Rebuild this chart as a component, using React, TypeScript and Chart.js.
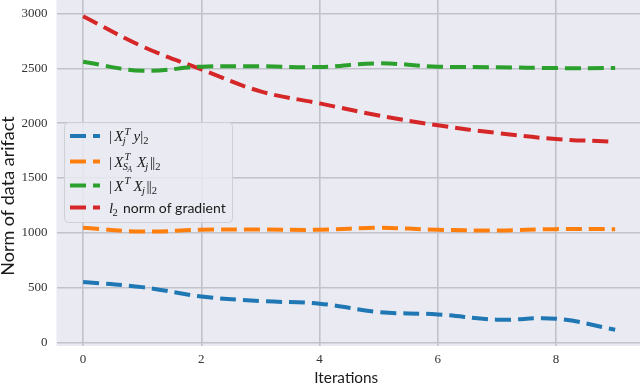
import React, { useEffect, useRef } from "react";
import { Chart, registerables } from "chart.js";

Chart.register(...registerables);

// ---------------- data ----------------
const ITERATIONS = [0, 1, 2, 3, 4, 5, 6, 7, 8, 9];
const XTY_NORM = [550, 504, 419, 377, 353, 277, 255, 207, 216, 116];
const XSA_XJ_NORM = [1045, 1011, 1027, 1030, 1027, 1045, 1027, 1021, 1033, 1033];
const XT_XJ_NORM = [2560, 2478, 2515, 2518, 2512, 2545, 2515, 2510, 2502, 2502];
const GRAD_NORM = [2975, 2700, 2490, 2290, 2180, 2070, 1980, 1910, 1855, 1830];

const SERIES_MATH = ["|X_j^T y|_2", "|X_{S_A}^T X_j||_2", "|X^T X_j||_2", "l_2"];
const SERIES_TEXT = ["", "", "", " norm of gradient"];
const SERIES_COLORS = ["#1f77b4", "#ff7f0e", "#2ca02c", "#d62728"];

const X_TICKS = [0, 2, 4, 6, 8];
const Y_TICKS = [0, 500, 1000, 1500, 2000, 2500, 3000];
const X_TITLE = "Iterations";
const Y_TITLE = "Norm of data arifact";

// ---------------- styling ----------------
const PLOT_BG = "#eaeaf2";
const GRID_COLOR = "#c2c2ca";
const TICK_COLOR = "#333333";
const SERIF = '"Liberation Serif", "DejaVu Serif", serif';
const SANS = 'Lato, "Open Sans", "DejaVu Sans", sans-serif';

type Atom = { base: string; sup?: string; sub?: string };

function parseMath(s: string): Atom[] {
  const atoms: Atom[] = [];
  let i = 0;
  const readGroup = (): string => {
    if (s[i] === "{") {
      let depth = 1;
      let j = i + 1;
      while (j < s.length && depth > 0) {
        if (s[j] === "{") depth++;
        else if (s[j] === "}") depth--;
        j++;
      }
      const g = s.slice(i + 1, j - 1);
      i = j;
      return g;
    }
    const g = s[i];
    i++;
    return g;
  };
  while (i < s.length) {
    const c = s[i];
    if (c === "^" || c === "_") {
      i++;
      const g = readGroup();
      let last = atoms[atoms.length - 1];
      if (!last) {
        last = { base: "" };
        atoms.push(last);
      }
      if (c === "^") last.sup = g;
      else last.sub = g;
    } else {
      atoms.push({ base: c });
      i++;
    }
  }
  return atoms;
}

function drawMath(
  ctx: CanvasRenderingContext2D,
  s: string,
  x: number,
  y: number,
  size: number,
  draw: boolean
): number {
  const atoms = parseMath(s);
  let cx = x;
  atoms.forEach((a, idx) => {
    if (a.base === " ") {
      cx += size * 0.15;
      return;
    }
    const isLetter = /[A-Za-z]/.test(a.base);
    if (a.base) {
      const prev = atoms[idx - 1];
      if (a.base === "|" && idx === 0) cx += 0;
      if (a.base === "|" && prev && prev.base === "|") cx -= size * 0.05;
      ctx.font = `${isLetter ? "italic " : ""}${size}px ${SERIF}`;
      const w = ctx.measureText(a.base).width;
      if (draw) ctx.fillText(a.base, cx, y);
      cx += w;
      if (a.base === "|" && idx === 0) cx += size * 0.15;
    }
    const ss = size * 0.7;
    let sw = 0;
    if (a.sup) {
      sw = Math.max(
        sw,
        drawMath(ctx, a.sup, cx + (isLetter ? size * 0.08 : 0), y - size * 0.42, ss, draw) +
          (isLetter ? size * 0.08 : 0)
      );
    }
    if (a.sub) {
      sw = Math.max(sw, drawMath(ctx, a.sub, cx - (isLetter ? size * 0.05 : 0), y + size * 0.22, ss, draw));
    }
    if (sw) cx += sw + size * 0.06;
  });
  return cx - x;
}

const backgroundPlugin = {
  id: "plotBackground",
  beforeDraw(chart: any) {
    const { ctx, chartArea } = chart;
    ctx.save();
    ctx.fillStyle = "#ffffff";
    ctx.fillRect(0, 0, chart.width, chart.height);
    ctx.fillStyle = PLOT_BG;
    ctx.fillRect(chartArea.left, chartArea.top, chartArea.right - chartArea.left, chartArea.bottom - chartArea.top);
    ctx.restore();
  },
};

function fitFont(ctx: CanvasRenderingContext2D, text: string, target: number, base: number) {
  ctx.font = `${base}px ${SANS}`;
  const w = ctx.measureText(text).width;
  const size = Math.max(12, Math.min(18, (base * target) / w));
  return `${size.toFixed(2)}px ${SANS}`;
}

const titlesPlugin = {
  id: "axisTitles",
  afterDraw(chart: any) {
    const ctx: CanvasRenderingContext2D = chart.ctx;
    const area = chart.chartArea;
    ctx.save();
    ctx.fillStyle = "#1a1a1a";
    ctx.textAlign = "center";
    ctx.textBaseline = "alphabetic";
    ctx.font = fitFont(ctx, X_TITLE, 64, 16);
    ctx.fillText(X_TITLE, (area.left + area.right) / 2 - 2, 382.5);
    ctx.translate(14, 196);
    ctx.rotate(-Math.PI / 2);
    ctx.font = fitFont(ctx, Y_TITLE, 188, 16);
    ctx.fillText(Y_TITLE, 0, 0);
    ctx.restore();
  },
};

const legendPlugin = {
  id: "mathLegend",
  afterDatasetsDraw(chart: any) {
    const ctx: CanvasRenderingContext2D = chart.ctx;
    const box = { x: 64, y: 122, w: 168, h: 100, r: 4 };
    ctx.save();
    ctx.beginPath();
    ctx.roundRect(box.x + 0.5, box.y + 0.5, box.w, box.h, box.r);
    ctx.fillStyle = "rgba(234,234,242,0.85)";
    ctx.fill();
    ctx.strokeStyle = "#cfcfd6";
    ctx.lineWidth = 1;
    ctx.stroke();
    const rows = [136, 161.5, 185.5, 207.5];
    SERIES_MATH.forEach((m, i) => {
      const yc = rows[i];
      ctx.save();
      ctx.beginPath();
      ctx.rect(70, yc - 4, 30, 8);
      ctx.clip();
      ctx.beginPath();
      ctx.setLineDash([16, 7]);
      ctx.lineCap = "butt";
      ctx.strokeStyle = SERIES_COLORS[i];
      ctx.lineWidth = 4;
      ctx.moveTo(70, yc);
      ctx.lineTo(100, yc);
      ctx.stroke();
      ctx.restore();
      ctx.fillStyle = "#1a1a1a";
      ctx.textAlign = "left";
      ctx.textBaseline = "alphabetic";
      const base = yc + 5;
      const w = drawMath(ctx, m, 109, base, 15, true);
      if (SERIES_TEXT[i]) {
        ctx.font = `14px ${SANS}`;
        ctx.fillText(SERIES_TEXT[i], 109 + w, base);
      }
    });
    ctx.restore();
  },
};

const toPoints = (arr: number[]) => ITERATIONS.map((x, i) => ({ x, y: arr[i] }));

export default function App() {
  const canvasRef = useRef<HTMLCanvasElement | null>(null);

  useEffect(() => {
    const canvas = canvasRef.current;
    if (!canvas) return;
    const seriesValues = [XTY_NORM, XSA_XJ_NORM, XT_XJ_NORM, GRAD_NORM];
    const chart = new Chart(canvas, {
      type: "line",
      data: {
        datasets: seriesValues.map((vals, i) => ({
          label: SERIES_MATH[i] + SERIES_TEXT[i],
          data: toPoints(vals),
          borderColor: SERIES_COLORS[i],
          backgroundColor: SERIES_COLORS[i],
          borderWidth: 4,
          borderDash: [16, 7],
          borderCapStyle: "butt",
          pointRadius: 0,
          tension: 0.4,
          fill: false,
        })),
      },
      options: {
        animation: false,
        responsive: false,
        devicePixelRatio: 1,
        layout: { padding: 0 },
        plugins: {
          legend: { display: false },
          tooltip: { enabled: false },
        },
        scales: {
          x: {
            type: "linear",
            min: -0.45,
            max: 9.42,
            afterBuildTicks: (s: any) => {
              s.ticks = X_TICKS.map((v) => ({ value: v }));
            },
            afterFit: (s: any) => {
              s.height = 38;
              s.paddingLeft = 0;
              s.paddingRight = 0;
            },
            ticks: {
              autoSkip: false,
              maxRotation: 0,
              padding: 6,
              color: TICK_COLOR,
              font: { family: SERIF, size: 13 },
              callback: (v: any) => String(v),
            },
            grid: { color: GRID_COLOR, lineWidth: 1.6, drawTicks: false },
            border: { display: false },
          },
          y: {
            type: "linear",
            min: -33,
            max: 3123,
            afterBuildTicks: (s: any) => {
              s.ticks = Y_TICKS.map((v) => ({ value: v }));
            },
            afterFit: (s: any) => {
              s.width = 56.5;
              s.paddingTop = 0;
              s.paddingBottom = 0;
            },
            ticks: {
              autoSkip: false,
              padding: 9,
              color: TICK_COLOR,
              font: { family: SERIF, size: 13 },
              callback: (v: any) => String(v),
            },
            grid: { color: GRID_COLOR, lineWidth: 1.6, drawTicks: false },
            border: { display: false },
          },
        },
      },
      plugins: [backgroundPlugin, legendPlugin, titlesPlugin],
    } as any);
    return () => chart.destroy();
  }, []);

  return (
    <div style={{ position: "absolute", left: 0, top: 0, width: 640, height: 384 }}>
      <canvas ref={canvasRef} width={640} height={384} style={{ display: "block" }} />
    </div>
  );
}
